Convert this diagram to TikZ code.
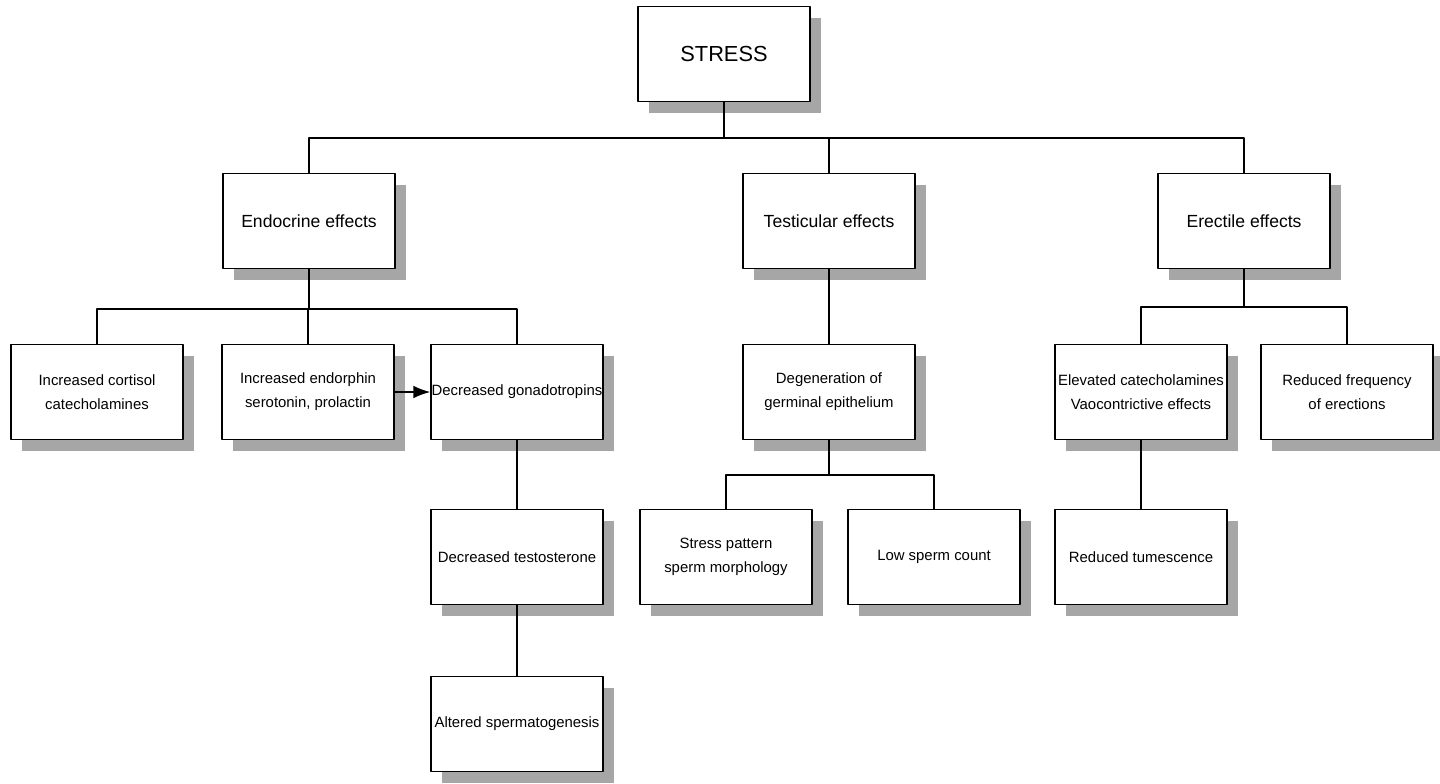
\documentclass[tikz,border=0pt]{standalone}
\usepackage{fontspec}
\setmainfont{Liberation Sans}
\usepackage{tikz}
\usetikzlibrary{arrows.meta,shadows}

\tikzset{
  box/.style={draw,line width=1.1pt,fill=white,align=center,inner xsep=0pt,inner ysep=1pt,
    minimum width=4.3cm,minimum height=2.37cm,
    drop shadow={shadow xshift=0.28cm,shadow yshift=-0.28cm,fill=black!35,opacity=1}},
  topbox/.style={box,font=\fontsize{15.5}{18}\selectfont},
  midbox/.style={box,font=\fontsize{12.5}{17}\selectfont},
  lowbox/.style={box,font=\fontsize{10.6}{17}\selectfont},
  link/.style={line width=1pt}
}

\begin{document}
\begin{tikzpicture}[x=0.025cm,y=-0.025cm,>=Latex,line join=round]
  \useasboundingbox (0,0) rectangle (1440,783);
  \coordinate (busA) at (724,138);
  \coordinate (busB) at (309,309);
  \coordinate (busC) at (829,475);
  \coordinate (busD) at (1244,307);
  \node[topbox] (stress) at (724,54) {STRESS};
  \node[midbox] (endo) at (309,221) {Endocrine effects};
  \node[midbox] (testis) at (829,221) {Testicular effects};
  \node[midbox] (erect) at (1244,221) {Erectile effects};
  \node[lowbox] (cortisol) at (97,392) {Increased cortisol\\catecholamines};
  \node[lowbox] (endorphin) at (308,392) {Increased endorphin\\serotonin, prolactin};
  \node[lowbox] (gonado) at (517,392) {Decreased gonadotropins};
  \node[lowbox] (testo) at (517,557) {Decreased testosterone};
  \node[lowbox] (spermgen) at (517,724) {Altered spermatogenesis};
  \node[lowbox] (degen) at (829,392) {Degeneration of\\germinal epithelium};
  \node[lowbox] (morph) at (726,557) {Stress pattern\\sperm morphology};
  \node[lowbox] (count) at (934,557) {Low sperm count};
  \node[lowbox] (catechol) at (1141,392) {Elevated catecholamines\\Vaocontrictive effects};
  \node[lowbox] (freq) at (1347,392) {Reduced frequency\\of erections};
  \node[lowbox] (tumesc) at (1141,557) {Reduced tumescence};
  \draw[link] (stress.south) -- (stress.south |- busA);
  \draw[link] (endo.north) |- (erect.north |- busA) -- (erect.north);
  \draw[link] (testis.north) -- (testis.north |- busA);
  \draw[link] (endo.south) -- (busB);
  \draw[link] (cortisol.north) |- (gonado.north |- busB) -- (gonado.north);
  \draw[link] (endorphin.north) -- (endorphin.north |- busB);
  \draw[link] (gonado.south) -- (testo.north);
  \draw[link] (testo.south) -- (spermgen.north);
  \draw[link] (testis.south) -- (degen.north);
  \draw[link] (degen.south) -- (busC);
  \draw[link] (morph.north) |- (count.north |- busC) -- (count.north);
  \draw[link] (erect.south) -- (busD);
  \draw[link] (catechol.north) |- (freq.north |- busD) -- (freq.north);
  \draw[link] (catechol.south) -- (tumesc.north);
  \draw[link,-{Latex[length=12pt,width=9pt]}] (endorphin.east) -- (gonado.west);
\end{tikzpicture}
\end{document}
